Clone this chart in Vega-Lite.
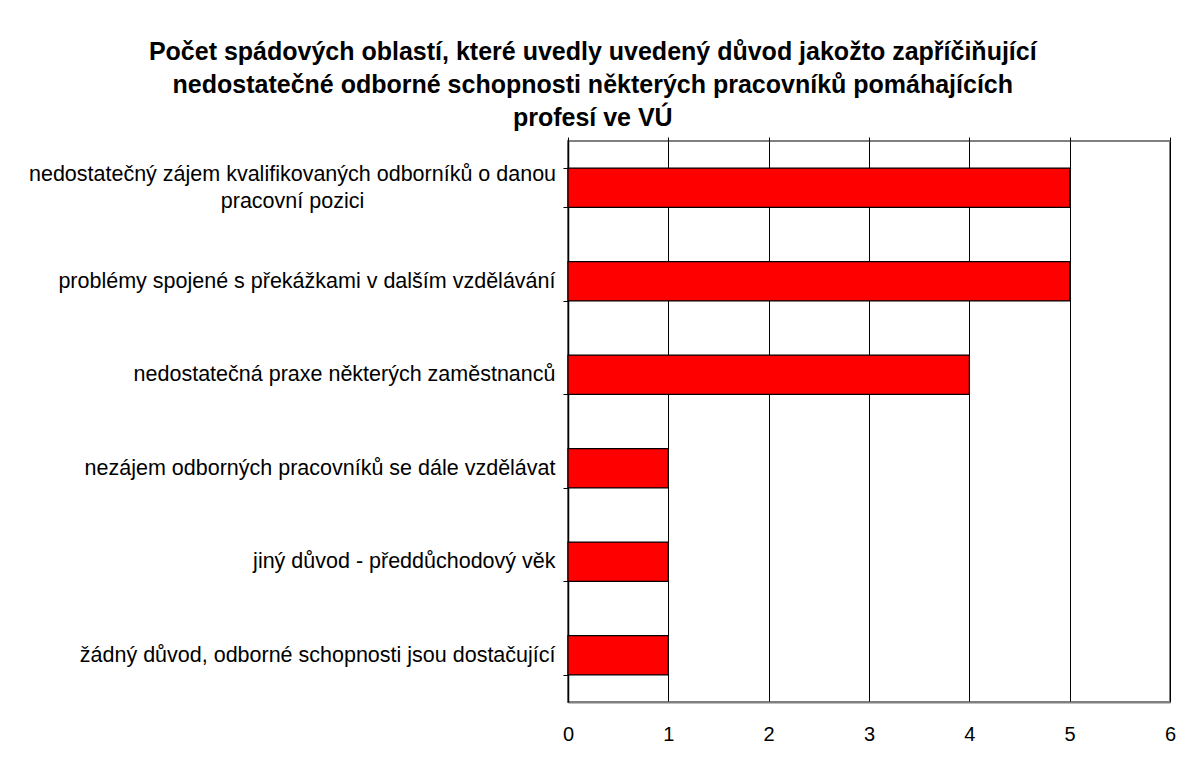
{
  "$schema": "https://vega.github.io/schema/vega-lite/v6.json",
  "width": 602,
  "height": 561,
  "autosize": {"type": "pad"},
  "padding": {"left": 10, "top": 40, "right": 14, "bottom": 10},
  "background": "white",
  "title": {
    "text": [
      "Počet spádových oblastí, které uvedly uvedený důvod jakožto zapříčiňující",
      "nedostatečné odborné schopnosti některých pracovníků pomáhajících",
      "profesí ve VÚ"
    ],
    "font": "Liberation Sans",
    "fontSize": 25,
    "fontWeight": "bold",
    "lineHeight": 33,
    "color": "#000000",
    "anchor": "middle",
    "frame": "bounds",
    "offset": -1
  },
  "data": {
    "values": [
      {"duvod": "nedostatečný zájem kvalifikovaných odborníků o danou|pracovní pozici", "pocet": 5},
      {"duvod": "problémy spojené s překážkami v dalším vzdělávání", "pocet": 5},
      {"duvod": "nedostatečná praxe některých zaměstnanců", "pocet": 4},
      {"duvod": "nezájem odborných pracovníků se dále vzdělávat", "pocet": 1},
      {"duvod": "jiný důvod - předdůchodový věk", "pocet": 1},
      {"duvod": "žádný důvod, odborné schopnosti jsou dostačující", "pocet": 1}
    ]
  },
  "layer": [
    {
      "mark": {"type": "bar", "fill": "#FF0000", "stroke": "#000000", "strokeWidth": 1.2},
      "encoding": {
        "y": {
          "field": "duvod",
          "type": "nominal",
          "sort": null,
          "scale": {"paddingInner": 0.58, "paddingOuter": 0.29},
          "axis": {
            "orient": "left",
            "title": null,
            "tickBand": "extent",
            "ticks": true,
            "tickSize": 5,
            "tickColor": "#000000",
            "domainColor": "#000000",
            "domainWidth": 1.5,
            "grid": false,
            "labelFont": "Liberation Sans",
            "labelFontSize": 21.5,
            "labelColor": "#000000",
            "labelLimit": 700,
            "labelPadding": 8,
            "labelExpr": "indexof(datum.label, '|') >= 0 ? '' : datum.label + ' '",
            "minExtent": 558,
            "maxExtent": 558
          }
        },
        "x": {
          "field": "pocet",
          "type": "quantitative",
          "scale": {"domain": [0, 6], "nice": false},
          "axis": {
            "orient": "bottom",
            "title": null,
            "values": [0, 1, 2, 3, 4, 5, 6],
            "grid": true,
            "gridColor": "#000000",
            "gridWidth": 1,
            "gridOpacity": 1,
            "ticks": false,
            "domainColor": "#808080",
            "domainWidth": 2,
            "labelFont": "Liberation Sans",
            "labelFontSize": 20,
            "labelColor": "#000000",
            "labelPadding": 22,
            "labelFlush": false
          }
        }
      }
    },
    {
      "mark": {"type": "bar", "opacity": 0},
      "encoding": {
        "y": {
          "field": "duvod",
          "type": "nominal",
          "sort": null,
          "axis": {
            "orient": "left",
            "title": null,
            "ticks": false,
            "domain": false,
            "grid": false,
            "labelFont": "Liberation Sans",
            "labelFontSize": 21.5,
            "labelColor": "#000000",
            "labelLimit": 700,
            "labelLineHeight": 27,
            "labelAlign": "center",
            "labelPadding": 276,
            "labelOffset": -13,
            "labelExpr": "indexof(datum.label, '|') >= 0 ? split(datum.label, '|') : ''",
            "minExtent": 558,
            "maxExtent": 558
          }
        },
        "x": {
          "field": "pocet",
          "type": "quantitative",
          "axis": {
            "orient": "top",
            "title": null,
            "values": [0, 1, 2, 3, 4, 5, 6],
            "labels": false,
            "grid": false,
            "domain": false,
            "ticks": true,
            "tickSize": 4,
            "tickColor": "#000000",
            "tickWidth": 1
          }
        }
      }
    }
  ],
  "resolve": {"axis": {"x": "independent", "y": "independent"}},
  "config": {
    "view": {"stroke": "#808080", "strokeWidth": 2}
  }
}
